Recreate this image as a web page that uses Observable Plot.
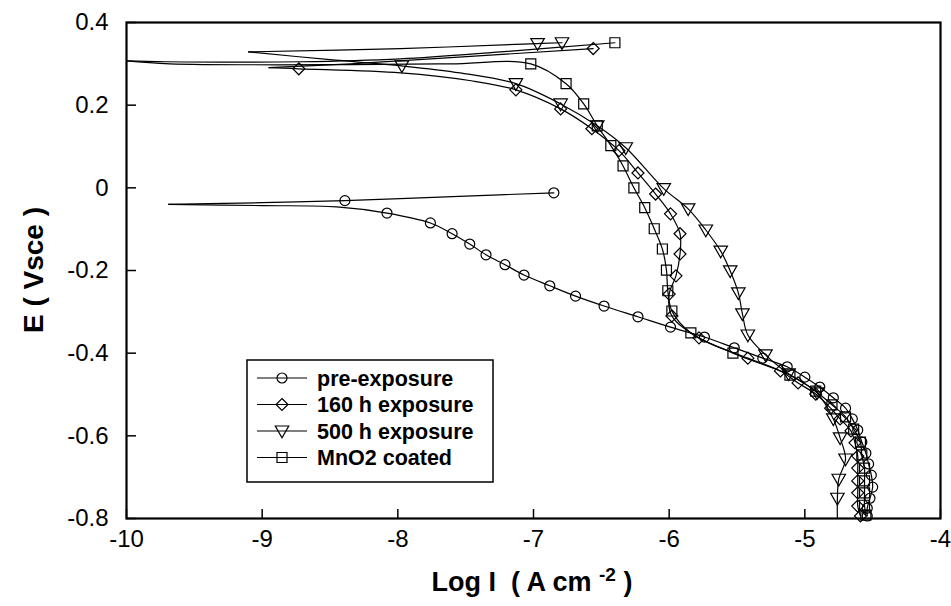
<!DOCTYPE html>
<html><head><meta charset="utf-8">
<script src="https://cdn.jsdelivr.net/npm/d3@7"></script>
<script src="https://cdn.jsdelivr.net/npm/@observablehq/plot@0.6"></script>
<style>html,body{margin:0;padding:0;background:#fff}</style>
</head><body><div id="chart"></div>
<script>
// ---------- data (log I in A cm^-2, E in V vs SCE; mark = 1 where a symbol is drawn) ----------
const seriesNames = ["pre-exposure", "160 h exposure", "500 h exposure", "MnO2 coated"];
const xTicks = [-10, -9, -8, -7, -6, -5, -4];
const yTicks = [0.4, 0.2, 0, -0.2, -0.4, -0.6, -0.8];

// index of the turning point (lowest current) in each series: anodic branch before, cathodic after
const tipIndex = [4, 3, 3, 5];

const preLogI = [-6.85,-7.50,-8.39,-9.00,-9.69,-9.00,-8.45,-8.08,-7.76,-7.60,-7.47,-7.35,-7.21,-7.07,-6.88,-6.69,-6.48,-6.23,-5.99,-5.74,-5.52,-5.31,-5.13,-5.00,-4.89,-4.79,-4.70,-4.65,-4.61,-4.58,-4.55,-4.53,-4.51,-4.50,-4.52,-4.54,-4.54];
const preE    = [-0.012,-0.020,-0.031,-0.036,-0.040,-0.043,-0.046,-0.061,-0.085,-0.111,-0.136,-0.162,-0.186,-0.211,-0.237,-0.262,-0.286,-0.312,-0.337,-0.361,-0.387,-0.412,-0.433,-0.458,-0.482,-0.508,-0.533,-0.559,-0.586,-0.615,-0.642,-0.668,-0.695,-0.724,-0.751,-0.775,-0.794];
const preMark = [1,0,1,0,0,0,0,1,1,1,1,1,1,1,1,1,1,1,1,1,1,1,1,1,1,1,1,1,1,1,1,1,1,1,1,1,1];

const h160LogI = [-6.56,-7.61,-8.35,-8.95,-8.73,-7.98,-7.46,-7.13,-6.80,-6.57,-6.37,-6.23,-6.10,-5.99,-5.92,-5.92,-5.95,-6.00,-5.98,-5.78,-5.42,-5.18,-5.05,-4.92,-4.81,-4.74,-4.66,-4.63,-4.61,-4.61,-4.61,-4.61,-4.61,-4.59];
const h160E    = [0.337,0.315,0.300,0.291,0.288,0.278,0.259,0.237,0.191,0.143,0.090,0.036,-0.015,-0.063,-0.111,-0.160,-0.213,-0.257,-0.310,-0.363,-0.412,-0.443,-0.472,-0.499,-0.533,-0.559,-0.588,-0.617,-0.649,-0.678,-0.709,-0.738,-0.770,-0.794];
const h160Mark = [1,0,0,0,1,0,0,1,1,1,1,1,1,1,1,1,1,1,1,1,1,1,1,1,1,1,1,1,1,1,1,1,1,1];

const h500LogI = [-6.79,-6.97,-7.98,-9.10,-8.50,-7.97,-7.54,-7.13,-6.80,-6.53,-6.32,-6.04,-5.86,-5.73,-5.62,-5.55,-5.49,-5.46,-5.42,-5.29,-5.12,-4.91,-4.79,-4.74,-4.70,-4.75,-4.76,-4.76];
const h500E    = [0.351,0.349,0.337,0.329,0.310,0.295,0.278,0.252,0.203,0.150,0.097,-0.002,-0.051,-0.102,-0.153,-0.201,-0.254,-0.305,-0.356,-0.404,-0.450,-0.496,-0.559,-0.605,-0.656,-0.705,-0.751,-0.801];
const h500Mark = [1,1,0,0,0,1,0,1,1,1,1,1,1,1,1,1,1,1,1,1,1,1,1,1,1,1,1,0];

const mnoLogI = [-6.40,-7.24,-7.98,-8.72,-9.71,-10.0,-9.68,-8.35,-7.61,-7.02,-6.76,-6.63,-6.53,-6.43,-6.34,-6.26,-6.18,-6.11,-6.05,-6.02,-6.01,-5.98,-5.84,-5.53,-5.11,-4.92,-4.80,-4.70,-4.64,-4.59,-4.58,-4.56,-4.56,-4.56,-4.56,-4.55];
const mnoE    = [0.351,0.329,0.312,0.305,0.305,0.307,0.300,0.298,0.300,0.300,0.252,0.203,0.150,0.102,0.053,0.000,-0.048,-0.099,-0.148,-0.199,-0.249,-0.298,-0.351,-0.400,-0.453,-0.492,-0.525,-0.554,-0.584,-0.615,-0.646,-0.678,-0.709,-0.738,-0.768,-0.792];
const mnoMark = [1,0,0,0,0,0,0,0,0,1,1,1,1,1,1,1,1,1,1,1,1,1,1,1,1,1,1,1,1,1,1,1,1,1,1,1];

// ---------- build tables ----------
function build(name, L, E, M) { return L.map((x, i) => ({series: name, L: x, E: E[i], mark: M[i]})); }
const tables = [
  build(seriesNames[0], preLogI, preE, preMark),
  build(seriesNames[1], h160LogI, h160E, h160Mark),
  build(seriesNames[2], h500LogI, h500E, h500Mark),
  build(seriesNames[3], mnoLogI, mnoE, mnoMark)
];
// split each curve into its two branches at the turning point (tip shared by both)
const branches = tables.flatMap((t, s) => [
  ...t.slice(0, tipIndex[s] + 1).map(d => ({...d, branch: d.series + " a"})),
  ...t.slice(tipIndex[s]).map(d => ({...d, branch: d.series + " c"}))
]);

// ---------- symbols ----------
const rad = size => Math.sqrt(size / Math.PI);
const symCircle = {draw(c, s) { const r = rad(s); c.moveTo(r, 0); c.arc(0, 0, r, 0, 2 * Math.PI); c.closePath(); }};
const symDiamond = {draw(c, s) { const r = rad(s) * 1.2; c.moveTo(0, -r); c.lineTo(r, 0); c.lineTo(0, r); c.lineTo(-r, 0); c.closePath(); }};
const symSquare = {draw(c, s) { const r = rad(s); c.moveTo(-r, -r); c.lineTo(r, -r); c.lineTo(r, r); c.lineTo(-r, r); c.closePath(); }};
const symTriDown = {draw(c, s) { const r = rad(s); c.moveTo(-1.35 * r, -1.0 * r); c.lineTo(1.35 * r, -1.0 * r); c.lineTo(0, 1.35 * r); c.closePath(); }};
const symbols = [symCircle, symDiamond, symTriDown, symSquare];

const W = 951, H = 606, mL = 126, mR = 11, mT = 22, mB = 88;
const plotW = W - mL - mR, plotH = H - mT - mB;

const dotMarks = tables.map((t, i) =>
  Plot.dot(t.filter(d => d.mark), {
    x: "L", y: "E", symbol: symbols[i], r: 5, stroke: "black", strokeWidth: 1.2, fill: "none"
  }));

const chart = Plot.plot({
  width: W, height: H,
  marginLeft: mL, marginRight: mR, marginTop: mT, marginBottom: mB,
  style: {fontFamily: "'Liberation Sans', Arial, Helvetica, sans-serif", fontSize: "24px", color: "black", background: "white"},
  x: {domain: [-10, -4], ticks: xTicks, tickFormat: d => String(d), tickSize: 0, tickPadding: 11, label: null},
  y: {domain: [-0.8, 0.4], ticks: yTicks, tickFormat: d => String(d), tickSize: 0, tickPadding: 18, label: null},
  marks: [
    Plot.tickY(yTicks, {y: d => d, insetRight: plotW - 10, stroke: "black", strokeWidth: 1.5}),
    Plot.tickX(xTicks, {x: d => d, insetTop: plotH - 9, stroke: "black", strokeWidth: 1.5}),
    Plot.line(branches, {x: "L", y: "E", z: "branch", curve: "catmull-rom", stroke: "black", strokeWidth: 1.2, clip: true}),
    ...dotMarks,
    Plot.frame({stroke: "black", strokeWidth: 2.2})
  ]
});
document.getElementById("chart").appendChild(chart);

// ---------- axis titles ----------
const svg = d3.select(chart);
svg.append("text")
  .attr("transform", "translate(43,270) rotate(-90)")
  .attr("text-anchor", "middle")
  .attr("font-weight", "bold").attr("font-size", 28)
  .text("E ( Vsce )");
const xt = svg.append("text")
  .attr("x", 532).attr("y", 591)
  .attr("text-anchor", "middle")
  .attr("font-weight", "bold").attr("font-size", 27);
xt.append("tspan").text("Log I  ( A cm ");
xt.append("tspan").attr("font-size", 19).attr("dy", -10).text("-2");
xt.append("tspan").attr("dy", 10).text(" )");

// ---------- legend ----------
const lg = svg.append("g");
lg.append("rect").attr("x", 247).attr("y", 360).attr("width", 246).attr("height", 122)
  .attr("fill", "white").attr("stroke", "black").attr("stroke-width", 1.5);
seriesNames.forEach((name, i) => {
  const y = 378 + i * 26.5;
  lg.append("line").attr("x1", 257).attr("x2", 307).attr("y1", y).attr("y2", y).attr("stroke", "black").attr("stroke-width", 1.2);
  lg.append("path").attr("transform", `translate(282,${y})`)
    .attr("d", d3.symbol(symbols[i], Math.PI * 25)())
    .attr("fill", "none").attr("stroke", "black").attr("stroke-width", 1.2);
  lg.append("text").attr("x", 317).attr("y", y).attr("dy", "0.36em")
    .attr("text-anchor", "start")
    .attr("font-weight", "bold").attr("font-size", 21.5).text(name);
});
</script>
</body></html>
